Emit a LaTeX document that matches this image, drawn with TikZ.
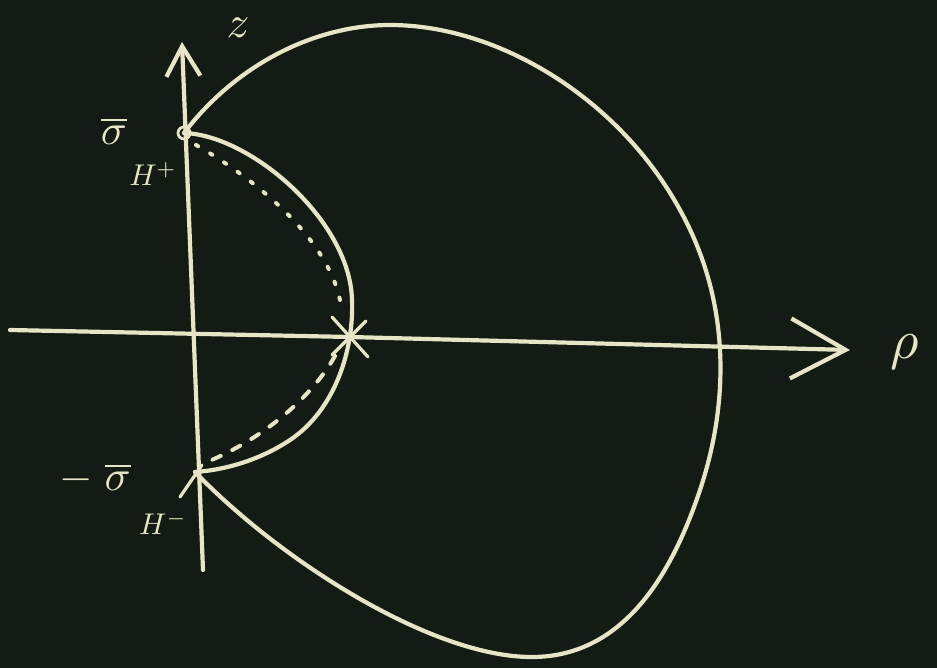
\documentclass[tikz,border=0pt]{standalone}
\usetikzlibrary{arrows.meta}
\definecolor{board}{HTML}{141A14}
\definecolor{chalk}{HTML}{E6E6C6}
\begin{document}
\begin{tikzpicture}[x=1pt,y=-1pt,
  chalkline/.style={draw=chalk,line width=4.2pt,line cap=round,line join=round},
  dotline/.style={draw=chalk,line width=4pt,line cap=round,dash pattern=on 2.5pt off 14pt},
  dashline/.style={draw=chalk,line width=4pt,line cap=round,dash pattern=on 9pt off 13pt},
  lab/.style={text=chalk,inner sep=0pt,transform shape=false}]
\fill[board] (0,0) rectangle (937,668);
\useasboundingbox (0,0) rectangle (937,668);
% key points
\coordinate (A) at (184,133);
\coordinate (B) at (195,472);
\coordinate (C) at (350,337);
\coordinate (zbot) at (203,570);
\coordinate (ztop) at (182,42);
\coordinate (rleft) at (10,330);
\coordinate (rtip) at (850,350);
% axes
\draw[chalkline,-{Straight Barb[length=30pt,width=34pt]}] (zbot) -- (ztop);
\draw[chalkline,-{Straight Barb[length=55pt,width=60pt]}] (rleft) -- (C) -- (rtip);
% big outer curve
\draw[chalkline] (A) .. controls (240,60) and (320,25) .. (390,25)
  .. controls (500,25) and (620,100) .. (680,210)
  .. controls (730,300) and (730,400) .. (700,490)
  .. controls (670,580) and (620,658) .. (530,657)
  .. controls (430,656) and (280,560) .. (B);
% inner solid curve
\draw[chalkline] (A) .. controls (250,135) and (350,220) .. (352,300)
  .. controls (354,350) and (335,410) .. (290,440)
  .. controls (260,460) and (225,470) .. (B);
% dotted upper part
\draw[dotline] (196,145) .. controls (240,170) and (325,230) .. (340,300);
% dashed lower part
\draw[dashline] (335,356) .. controls (310,400) and (260,440) .. (207,462);
% marks at points
\draw[chalkline,line width=2.8pt] (A) circle (6pt);
\draw[chalkline,line width=3.2pt] (C) ++(-18,-20) -- ++(36,40);
\draw[chalkline,line width=3.2pt] (C) ++(-18,18) -- ++(34,-34);
\draw[chalkline,line width=3.2pt] (B) ++(-15,25) -- ++(22,-32);
% labels
\node[lab,scale=4.5] (zlab) at (238,28) {$z$};
\node[lab,scale=5.5] (rholab) at (905,352) {$\rho$};
\node[lab,scale=4.3] (sigtop) at (114,131) {$\overline{\sigma}$};
\node[lab,scale=3] (htop) at (153,174) {$H^{+}$};
\node[lab,scale=4.3] (sigbot) at (95,479) {$-\;\overline{\sigma}$};
\node[lab,scale=3] (hbot) at (163,523) {$H^{-}$};
\end{tikzpicture}
\end{document}
